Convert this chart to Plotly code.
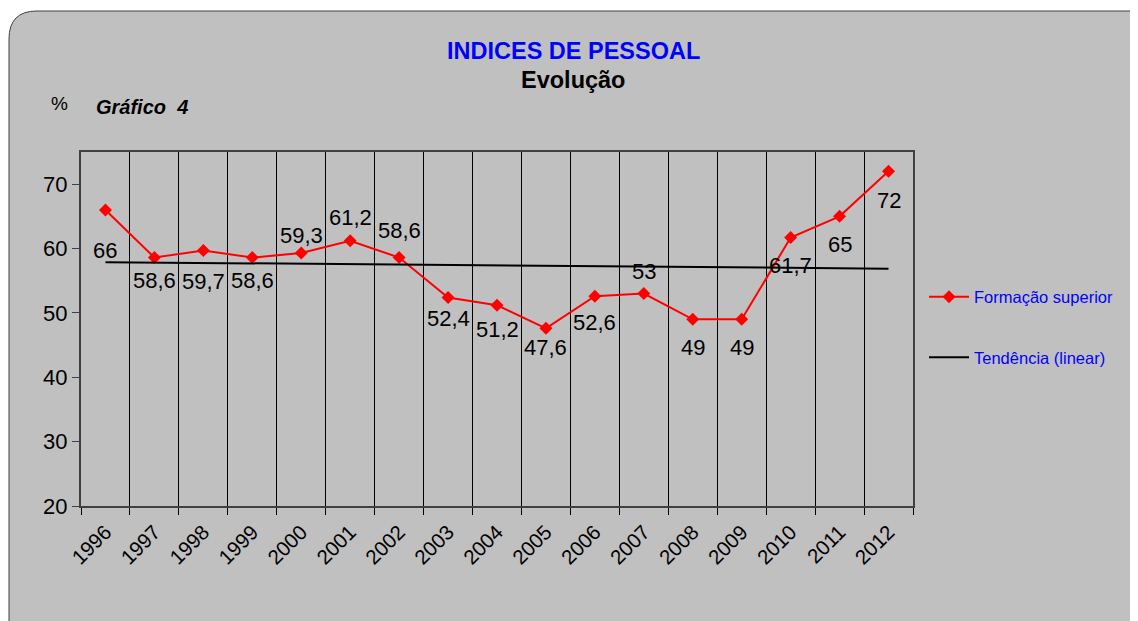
import numpy as np
import plotly.graph_objects as go

# Dados do gráfico
anos = [str(a) for a in range(1996, 2013)]
formacao_superior = [66, 58.6, 59.7, 58.6, 59.3, 61.2, 58.6, 52.4, 51.2, 47.6,
                     52.6, 53, 49, 49, 61.7, 65, 72]
# deslocamento vertical dos rótulos (px, positivo = para cima)
desloc_rotulos = [-41, -23, -31, -23, 18, 23, 27, -21, -24, -19, -26, 22, -28, -28, -28, -28, -29]

# a página tem margem de 8px: coordenadas da referência menos 8
OFF = 8
W, H = 1138 - OFF, 621 - OFF
L, R, T, B = 81 - OFF, 913 - OFF, 152 - OFF, 506 - OFF


def px_x(x):
    return (x - OFF - L) / (R - L)


def px_y(y):
    return (B - (y - OFF)) / (B - T)


def rotulo(v):
    return str(int(v)) if float(v).is_integer() else str(v).replace('.', ',')


# Tendência linear
idx = np.arange(len(anos))
coef = np.polyfit(idx, formacao_superior, 1)
tendencia = np.polyval(coef, idx)

fig = go.Figure()

fig.add_trace(go.Scatter(
    x=anos, y=formacao_superior, mode='lines+markers', name='Formação superior',
    line=dict(color='#ff0000', width=2),
    marker=dict(symbol='diamond', size=10, color='#ff0000'),
    legendgroup='a'
))
fig.add_trace(go.Scatter(
    x=anos, y=tendencia, mode='lines', name='Tendência (linear)',
    line=dict(color='#000000', width=2),
    legendgroup='b'
))

# Rótulos dos dados
for i, (v, dy) in enumerate(zip(formacao_superior, desloc_rotulos)):
    fig.add_annotation(x=i, y=v, text=rotulo(v), showarrow=False, yshift=dy,
                       font=dict(size=22, color='#000000'))

# Fundo cinzento com canto arredondado
x0, y0, x1, y1 = px_x(9), px_y(11), px_x(1145), px_y(640)
r, ry = 28 / (R - L), 28 / (B - T)
path = (f"M {x0},{y1} L {x0},{y0 - ry} Q {x0},{y0} {x0 + r},{y0} "
        f"L {x1},{y0} L {x1},{y1} Z")
fig.add_shape(type='path', path=path, xref='paper', yref='paper', layer='below',
              fillcolor='#c0c0c0', line=dict(color='#404040', width=1))

# Títulos
textos = [
    (573, 51, 'center', '<b>INDICES DE PESSOAL</b>', 23.5, '#0000ff'),
    (573, 80, 'center', '<b>Evolução</b>', 23.5, '#000000'),
    (59, 104, 'center', '%', 19, '#000000'),
    (94, 107, 'left', '<b><i>Gráfico  4</i></b>', 20, '#000000'),
]
for x, y, anc, txt, tam, cor in textos:
    fig.add_annotation(x=px_x(x), y=px_y(y), xref='paper', yref='paper', showarrow=False,
                       xanchor=anc, yanchor='middle', text=txt,
                       font=dict(size=tam, color=cor))

fig.update_layout(
    width=W, height=H,
    margin=dict(l=L, r=W - R, t=T, b=H - B),
    paper_bgcolor='#ffffff',
    plot_bgcolor='#ffffcc',
    font=dict(family='Liberation Sans, Arial, sans-serif', color='#000000'),
    showlegend=True,
    legend=dict(x=px_x(924), y=px_y(327), xanchor='left', yanchor='middle',
                bgcolor='rgba(0,0,0,0)', font=dict(size=16.5, color='#0000ff'),
                tracegroupgap=36, itemwidth=40),
    xaxis=dict(
        type='category', tickson='boundaries', showgrid=True, gridcolor='#000000',
        gridwidth=1, ticks='outside', ticklen=7, tickcolor='#000000', tickangle=-45,
        tickfont=dict(size=20.5), ticklabelstandoff=4, showline=True,
        linecolor='#404040', linewidth=2, mirror=True, range=[-0.5, len(anos) - 0.5]
    ),
    yaxis=dict(
        range=[20, 75], tickvals=[20, 30, 40, 50, 60, 70], showgrid=False,
        ticks='outside', ticklen=7, tickcolor='#404040', tickfont=dict(size=22),
        showline=True, linecolor='#404040', linewidth=2, mirror=True, zeroline=False
    ),
)

fig.write_html("out.html")
